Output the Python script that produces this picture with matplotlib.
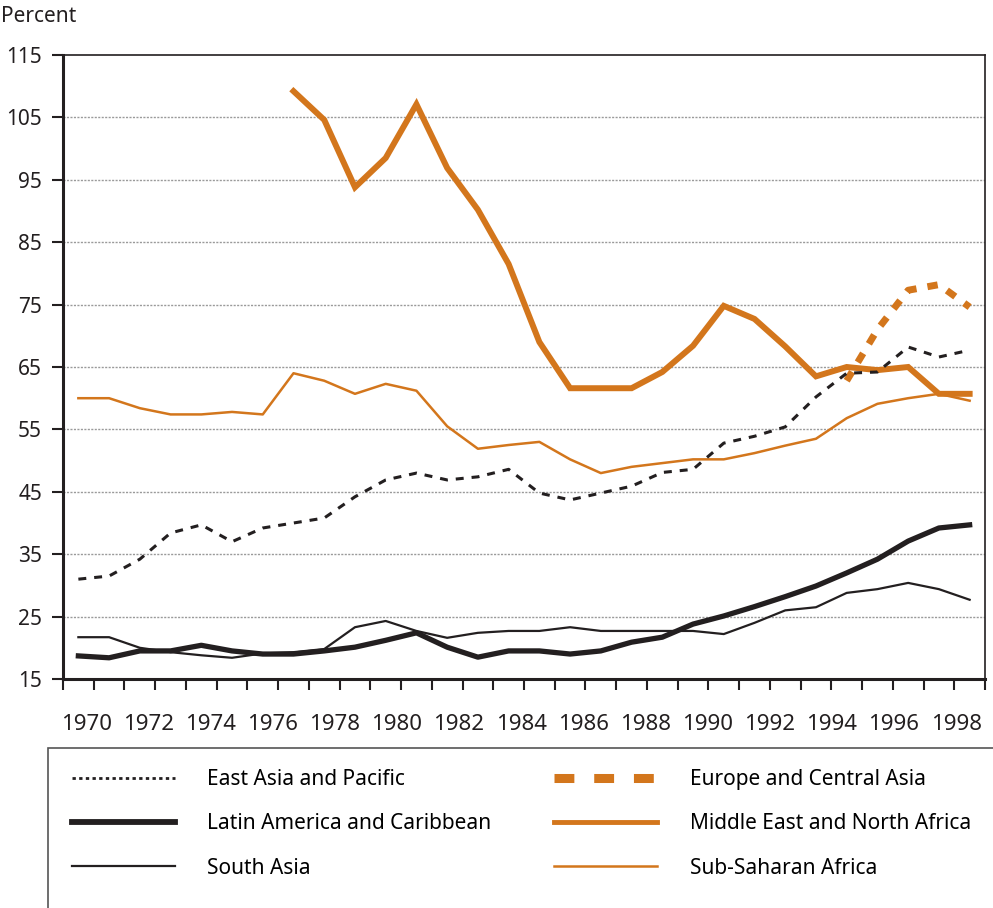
import numpy as np
import matplotlib
matplotlib.use("Agg")
import matplotlib.pyplot as plt
from matplotlib.lines import Line2D
from matplotlib.patches import Rectangle

plt.rcParams['font.family'] = ['Noto Sans', 'DejaVu Sans']

# one point per category on the x axis
years = list(range(1970, 2000))
year_labels = ['1970', '1972', '1974', '1976', '1978', '1980', '1982', '1984',
               '1986', '1988', '1990', '1992', '1994', '1996', '1998']
y_ticks = [15, 25, 35, 45, 55, 65, 75, 85, 95, 105, 115]

nan = np.nan
east_asia = [31.0, 31.5, 34.2, 38.4, 39.7, 37.0, 39.2, 40.0, 40.8, 44.2,
             46.9, 48.0, 46.9, 47.4, 48.6, 44.8, 43.7, 44.8, 45.9, 48.1,
             48.6, 52.8, 53.9, 55.4, 60.2, 64.0, 64.2, 68.2, 66.6, 67.7]
latin_america = [18.7, 18.4, 19.5, 19.5, 20.4, 19.5, 19.0, 19.0, 19.5, 20.1,
                 21.2, 22.4, 20.1, 18.5, 19.5, 19.5, 19.0, 19.5, 20.9, 21.7,
                 23.8, 25.1, 26.6, 28.2, 29.9, 32.0, 34.2, 37.1, 39.2, 39.7]
south_asia = [21.7, 21.7, 20.0, 19.3, 18.8, 18.4, 19.1, 19.3, 19.8, 23.3,
              24.3, 22.7, 21.6, 22.4, 22.7, 22.7, 23.3, 22.7, 22.7, 22.7,
              22.7, 22.2, 24.0, 26.0, 26.5, 28.8, 29.4, 30.4, 29.4, 27.7]
europe = [nan] * 25 + [62.8, 71.0, 77.3, 78.2, 74.6]
mena = [nan] * 7 + [109.2, 104.6, 93.8, 98.5, 107.1, 96.9, 90.2, 81.5, 69.0,
                    61.6, 61.6, 61.6, 64.2, 68.4, 74.8, 72.7, 68.3, 63.5, 65.0,
                    64.5, 65.0, 60.7, 60.7]
sub_saharan = [60.0, 60.0, 58.4, 57.4, 57.4, 57.8, 57.4, 64.0, 62.8, 60.7,
               62.3, 61.2, 55.5, 51.9, 52.5, 53.0, 50.2, 48.0, 49.0, 49.6,
               50.2, 50.2, 51.2, 52.4, 53.5, 56.8, 59.1, 60.0, 60.7, 59.6]

BLACK = '#231f20'
ORANGE = '#d3761c'

W, H = 993, 908
fig = plt.figure(figsize=(W / 100, H / 100), dpi=100)
ax = fig.add_axes([63 / W, 1 - 679 / H, 922 / W, 624 / H])

# grid first so the series sit on top
for v in y_ticks[1:-1]:
    ax.axhline(v, color='#9a9a9a', lw=1.0, ls=(0, (1.5, 1)), zorder=1)

ax.plot(years, sub_saharan, color=ORANGE, lw=1.8, zorder=3)
ax.plot(years, mena, color=ORANGE, lw=4.3, zorder=3,
        solid_joinstyle='miter')
ax.plot(years, europe, color=ORANGE, lw=5, ls=(0, (1.5, 1.6)), zorder=3,
        dash_capstyle='butt')
ax.plot(years, south_asia, color=BLACK, lw=1.6, zorder=4)
ax.plot(years, latin_america, color=BLACK, lw=3.8, zorder=4)
ax.plot(years, east_asia, color=BLACK, lw=2.2, ls=(0, (2.6, 2.6)), zorder=4)

ax.set_xlim(1969.5, 1999.5)
ax.set_ylim(15, 115)

# ticks at category boundaries, labels spread across the axis
ax.set_xticks(np.arange(1969.5, 2000, 1.0))
ax.set_xticklabels([])
ax.set_xticks(np.linspace(1970.25, 1998.56, len(year_labels)), minor=True)
ax.set_xticklabels(year_labels, minor=True, fontsize=16, color=BLACK)
ax.tick_params(axis='x', which='major', direction='out', length=8,
               width=1.5, color=BLACK)
ax.tick_params(axis='x', which='minor', length=0, pad=25)

ax.set_yticks(y_ticks)
ax.set_yticklabels([str(v) for v in y_ticks], fontsize=15, color=BLACK)
ax.tick_params(axis='y', direction='out', length=8, width=1.5, color=BLACK,
               pad=7)

for side in ['left', 'bottom']:
    ax.spines[side].set_linewidth(2.2)
    ax.spines[side].set_color(BLACK)
for side in ['top', 'right']:
    ax.spines[side].set_linewidth(1.2)
    ax.spines[side].set_color(BLACK)

fig.text(1 / W, 1 - 16 / H, 'Percent', fontsize=15, va='center',
         color=BLACK)

# legend box runs off the right and bottom edges
fig.patches.append(Rectangle((48 / W, -0.05), 1.0, (908 - 748) / H + 0.05,
                             transform=fig.transFigure, fill=False,
                             edgecolor='#555555', lw=1.2))

handles = [
    Line2D([], [], color=BLACK, lw=2, ls=(0, (1.2, 1.2))),
    Line2D([], [], color=BLACK, lw=4.2),
    Line2D([], [], color=BLACK, lw=1.6),
    Line2D([], [], color=ORANGE, lw=6.5, ls=(0, (2.2, 2.2))),
    Line2D([], [], color=ORANGE, lw=3.5),
    Line2D([], [], color=ORANGE, lw=1.8),
]
labels = ['East Asia and Pacific', 'Latin America and Caribbean',
          'South Asia', 'Europe and Central Asia',
          'Middle East and North Africa', 'Sub-Saharan Africa']
fig.legend(handles, labels, loc='upper left',
           bbox_to_anchor=(72 / W, 1 - 769 / H), ncol=2, frameon=False,
           fontsize=15, handlelength=4.95, handletextpad=1.55,
           columnspacing=3.0, labelspacing=1.12, borderpad=0,
           borderaxespad=0)

fig.savefig('out.png', dpi=100)
